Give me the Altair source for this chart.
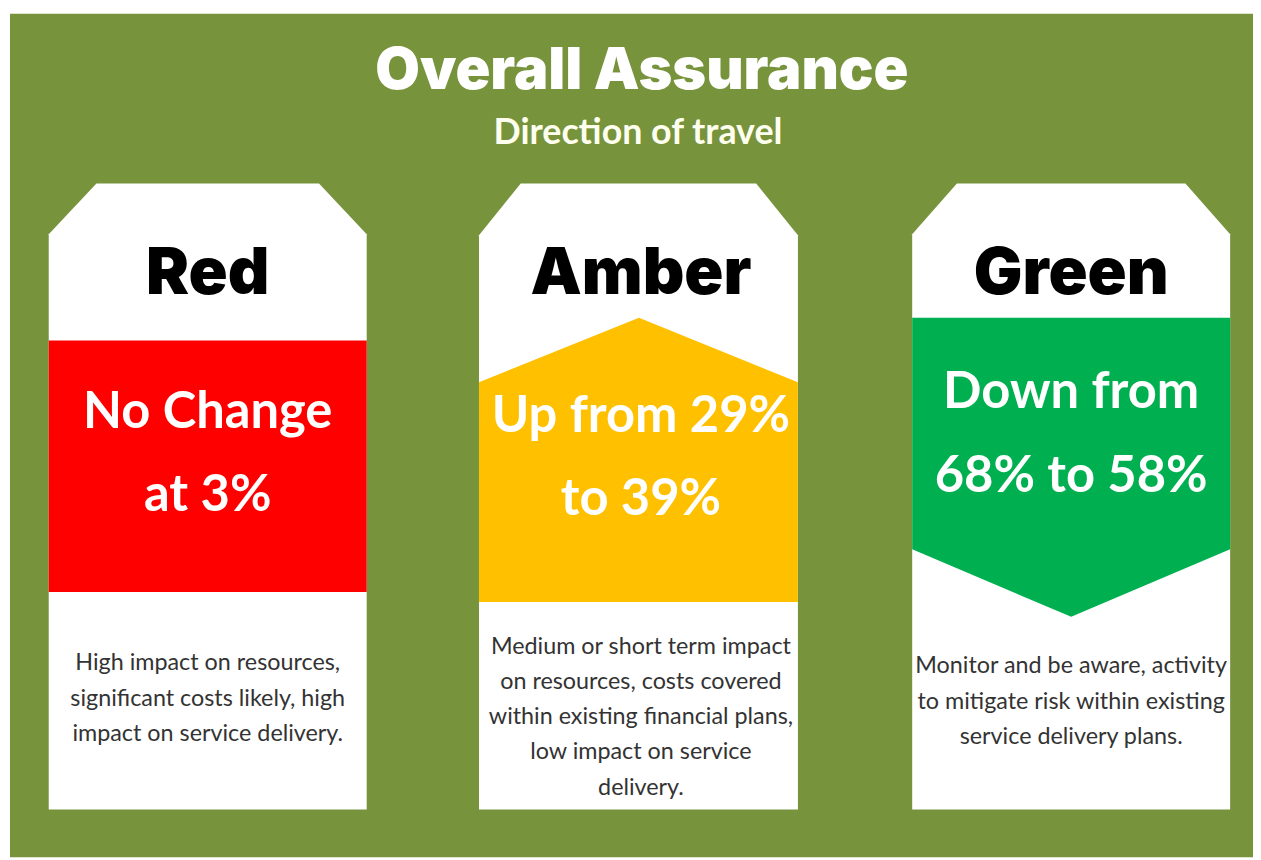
import altair as alt
import pandas as pd

# ---------------- data (reference pixel coordinates) ----------------
X_DOMAIN = [8, 1253]
Y_DOMAIN = [8, 852]

bg_x = [10]
bg_x2 = [1261]
bg_y = [11]
bg_y2 = [860]

card_names = ["Red", "Amber", "Green"]
card_left = [49, 482, 918]
card_right = [369, 803, 1238]
card_top = [182, 182, 182]
card_shoulder = [233, 234, 233]
card_chamfer = [48, 42, 45]
card_bottom = [812, 812, 812]
card_colors = ["#FF0000", "#FFC000", "#00B050"]

# band outlines: x points, top y, bottom y
red_band_x = [49, 369]
red_band_top = [340, 340]
red_band_bottom = [593, 593]

amber_band_x = [482, 643, 803]
amber_band_top = [382, 317, 382]
amber_band_bottom = [603, 603, 603]

green_band_x = [918, 1078, 1238]
green_band_top = [317, 317, 317]
green_band_bottom = [550, 618, 550]

title_text = ["Overall Assurance"]
subtitle_text = ["Direction of travel"]
card_center = [209, 645, 1078]
header_baseline = [293, 293, 293]

value_lines = ["No Change\nat 3%", "Up from 29%\nto 39%", "Down from\n68% to 58%"]
value_baseline = [428, 432, 408]

desc_lines = [
    "High impact on resources,\nsignificant costs likely, high\nimpact on service delivery.",
    "Medium or short term impact\non resources, costs covered\nwithin existing financial plans,\nlow impact on service\ndelivery.",
    "Monitor and be aware, activity\nto mitigate risk within existing\nservice delivery plans.",
]
desc_baseline = [672, 655, 675]

# ---------------- scales ----------------
xs = alt.Scale(domain=X_DOMAIN, zero=False, nice=False, padding=0)
ys = alt.Scale(domain=Y_DOMAIN, zero=False, nice=False, reverse=True, padding=0)


def X(f="px"):
    return alt.X(f"{f}:Q", scale=xs, axis=None)


def Y(f="py"):
    return alt.Y(f"{f}:Q", scale=ys, axis=None)


def area_layer(xs_list, tops, bots, colour):
    df = pd.DataFrame({"px": [float(v) for v in xs_list],
                       "top": [float(v) for v in tops],
                       "bottom": [float(v) for v in bots]})
    return alt.Chart(df).mark_area(color=colour, opacity=1, interpolate="linear",
                                   orient="vertical").encode(
        x=X("px"),
        y=alt.Y("top:Q", scale=ys, axis=None, stack=None),
        y2=alt.Y2("bottom:Q"),
    )


bg_df = pd.DataFrame({"px": bg_x, "px2": bg_x2, "py": bg_y, "py2": bg_y2})
background = alt.Chart(bg_df).mark_rect(color="#77933C").encode(
    x=X(), x2="px2:Q", y=Y(), y2="py2:Q")

layers = [background]
for i in range(len(card_names)):
    l, r, t, s, c, b = (card_left[i], card_right[i], card_top[i],
                        card_shoulder[i], card_chamfer[i], card_bottom[i])
    layers.append(area_layer([l, l + c, r - c, r], [s, t, t, s], [b, b, b, b], "#FFFFFF"))

layers.append(area_layer(red_band_x, red_band_top, red_band_bottom, card_colors[0]))
layers.append(area_layer(amber_band_x, amber_band_top, amber_band_bottom, card_colors[1]))
layers.append(area_layer(green_band_x, green_band_top, green_band_bottom, card_colors[2]))

header_df = pd.DataFrame({"text": card_names, "px": card_center, "py": header_baseline})
value_df = pd.DataFrame({"text": value_lines, "px": card_center, "py": value_baseline})
desc_df = pd.DataFrame({"text": desc_lines, "px": card_center, "py": desc_baseline})
title_df = pd.DataFrame({"text": title_text, "px": [646], "py": [87]})
sub_df = pd.DataFrame({"text": subtitle_text, "px": [642], "py": [142]})

title = alt.Chart(title_df).mark_text(
    font="Inter", fontWeight=900, fontSize=58, color="#FFFFFF",
    align="center", baseline="alphabetic").encode(x=X(), y=Y(), text="text:N")

subtitle = alt.Chart(sub_df).mark_text(
    font="Lato", fontWeight="bold", fontSize=36, color="#FFFFF0",
    align="center", baseline="alphabetic").encode(x=X(), y=Y(), text="text:N")

headers = alt.Chart(header_df).mark_text(
    font="Inter", fontWeight=900, fontSize=65, color="#000000",
    align="center", baseline="alphabetic").encode(x=X(), y=Y(), text="text:N")

values = alt.Chart(value_df).mark_text(
    font="Lato", fontWeight="bold", fontSize=51, color="#FFFFFF",
    align="center", baseline="alphabetic", lineBreak="\n", lineHeight=84).encode(
    x=X(), y=Y(), text="text:N")

descs = alt.Chart(desc_df).mark_text(
    font="Lato", fontSize=23.5, color="#333333",
    align="center", baseline="alphabetic", lineBreak="\n", lineHeight=35.5).encode(
    x=X(), y=Y(), text="text:N")

layers += [title, subtitle, headers, values, descs]

chart = alt.layer(*layers).properties(
    width=1245, height=844, padding=0,
    background="#FFFFFF",
).configure_view(stroke=None)

chart.save("out.html", embed_options={"renderer": "svg", "actions": False})
